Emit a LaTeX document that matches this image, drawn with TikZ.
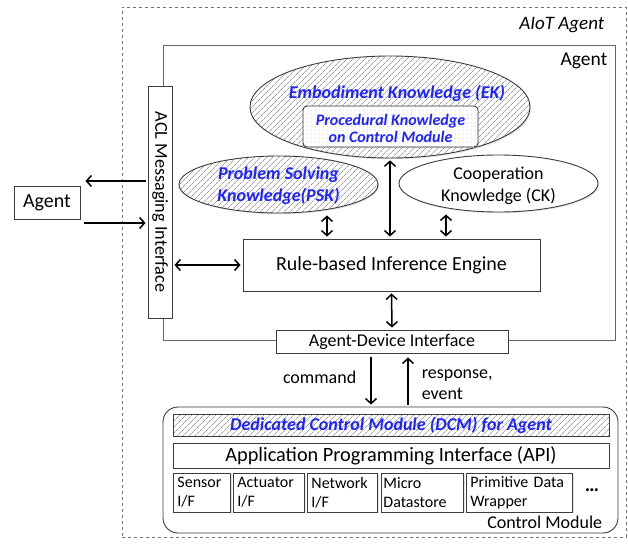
\documentclass[tikz,border=0pt]{standalone}
\usepackage{fontspec}
\setmainfont{Carlito}
\usetikzlibrary{arrows.meta,patterns.meta,shapes.geometric,shadows}

\definecolor{kblue}{RGB}{30,35,255}
\definecolor{edge}{RGB}{60,60,60}

\newcommand{\fs}[2]{\fontsize{#1}{#2}\selectfont}

\begin{document}
\begin{tikzpicture}[x=1pt,y=-1pt,
  shade1/.style={drop shadow={shadow xshift=1.2pt, shadow yshift=-1.2pt, fill=black!22}},
  box/.style={draw=edge, line width=0.9pt, fill=white, inner sep=0pt, shade1},
  hatchfill/.style={preaction={fill=white},
    pattern={Lines[angle=45,distance=4pt,line width=0.7pt]}, pattern color=black!38},
  oval/.style={ellipse, draw=edge, line width=0.9pt, inner sep=0pt, shade1},
  >={Straight Barb[length=5pt,width=11pt,line width=1.5pt]},
  arr/.style={line width=1.5pt, ->, shorten >=2pt, shorten <=2pt},
  darr/.style={line width=1.5pt, <->, shorten >=2pt, shorten <=2pt},
  kb/.style={font=\fs{18}{22}\bfseries\itshape, text=kblue, align=center, inner sep=0pt},
  txt/.style={font=\fs{18}{22}, align=center, inner sep=0pt},
  small/.style={box, align=left, font=\fs{16}{19}, minimum height=39pt, anchor=west},
]
\useasboundingbox (0,0) rectangle (628,546);

% outer AIoT agent frame and the agent itself
\node[draw=black!55, dashed, line width=0.8pt, minimum width=504pt, minimum height=530pt, inner sep=0pt] (aiot) at (374,272) {};
\node[anchor=east, font=\fs{19}{22}\itshape, inner sep=0pt] at ([xshift=-22pt,yshift=-18pt]aiot.north east) {AIoT Agent};

\node[draw=black!60, line width=0.9pt, minimum width=452pt, minimum height=295pt, inner sep=0pt] (agentbox) at (389,192.5) {};
\node[anchor=east, font=\fs{19.5}{22}, inner sep=0pt] at ([xshift=-8pt,yshift=-16pt]agentbox.north east) {Agent};

% knowledge bases
\node[oval, hatchfill, minimum width=280pt, minimum height=102pt] (ek) at (390,107) {};
\node[kb] (ektext) at ([xshift=7pt,yshift=14pt]ek.center) {Embodiment Knowledge (EK)};
\node[box, rounded corners=4pt, preaction={fill=white},
      pattern={Dots[distance=4pt,radius=0.35pt]}, pattern color=black!30,
      minimum width=175pt, minimum height=41pt] (proc) at (390.5,126.5) {};
\node[kb, font=\fs{16}{17}\bfseries\itshape] at ([yshift=-2pt]proc.center) {Procedural Knowledge\\on Control Module};

\node[oval, hatchfill, minimum width=199pt, minimum height=57pt] (psk) at (278.5,184.5) {};
\node[kb] at ([yshift=-1.5pt]psk.center) {Problem Solving\\Knowledge(PSK)};
\node[oval, fill=white, minimum width=199pt, minimum height=57pt] (ck) at (498.5,183.5) {};
\node[txt] at ([yshift=-2.5pt]ck.center) {Cooperation\\Knowledge (CK)};

% inference engine and interfaces
\node[box, minimum width=297pt, minimum height=52pt, font=\fs{20}{22}] (engine) at (391.5,265) {Rule-based Inference Engine};
\node[box, minimum width=24pt, minimum height=232pt] (acl) at (160,202) {};
\node[rotate=-90, font=\fs{18.2}{20}, inner sep=0pt] at (acl.center) {ACL Messaging Interface};
\node[box, minimum width=232pt, minimum height=23pt, font=\fs{18}{20}] (adi) at (392,341.5) {Agent-Device Interface};

\node[box, minimum width=66pt, minimum height=33pt, font=\fs{20}{22}] (ext) at (47,202.5) {Agent};

% control module
\node[draw=edge, line width=0.9pt, rounded corners=15pt, minimum width=455pt, minimum height=126pt, inner sep=0pt] (cm) at (390.5,470) {};
\node[anchor=east, font=\fs{18}{20}, inner sep=0pt] at ([xshift=-16pt,yshift=11pt]cm.south east) {Control Module};
\node[box, hatchfill, minimum width=436pt, minimum height=22pt] (dcm) at (391,425) {};
\node[kb] at (dcm.center) {Dedicated Control Module (DCM) for Agent};
\node[box, minimum width=436pt, minimum height=25pt, font=\fs{20.3}{22}] (api) at (391,455.5) {Application Programming Interface (API)};

\node[small, text width=49pt, minimum width=57pt, inner xsep=4pt] (sensor) at (173,492.5) {Sensor\\I/F};
\node[small, text width=63pt, minimum width=71pt, inner xsep=4pt] (actuator) at (233,492.5) {Actuator\\I/F};
\node[small, text width=62pt, minimum width=70pt, inner xsep=4pt] (network) at (307,492.5) {Network\\I/F};
\node[small, text width=78pt, minimum width=82pt, inner xsep=2pt] (micro) at (381,492.5) {Micro\\Datastore};
\node[small, text width=98pt, minimum width=106pt, inner xsep=4pt] (prim) at (466,492.5) {Primitive Data\\Wrapper};
\node[font=\fs{20}{22}\bfseries, inner sep=0pt] (more) at (592,490) {…};

% connectors
\draw[arr] ([yshift=21pt]acl.west) -- ([yshift=21.5pt,xshift=3pt]ext.east);
\draw[arr] ([yshift=-20.5pt,xshift=2pt]ext.east) -- ([yshift=-21pt]acl.west);
\draw[darr] (acl.east |- engine.west) -- (engine.west);
\draw[darr] ([xshift=-64.5pt]engine.north |- psk.south) -- ([xshift=-64.5pt]engine.north);
\draw[darr] (ek.south) -- (ek.south |- engine.north);
\draw[darr] ([xshift=54.5pt]engine.north |- ck.south) -- ([xshift=54.5pt]engine.north);
\draw[darr] (engine.south) -- (adi.north);
\draw[arr, shorten <=4pt] ([xshift=-21pt]adi.south) -- ([xshift=-21pt]adi.south |- cm.north)
  node[midway, left=14pt, yshift=2.5pt, font=\fs{18}{20}, inner sep=0pt] {command};
\draw[arr, shorten >=4pt] ([xshift=16pt]adi.south |- cm.north) -- ([xshift=16pt]adi.south)
  node[midway, right=13pt, yshift=-4.5pt, font=\fs{18}{21}, align=left, inner sep=0pt] {response,\\event};
\end{tikzpicture}
\end{document}
